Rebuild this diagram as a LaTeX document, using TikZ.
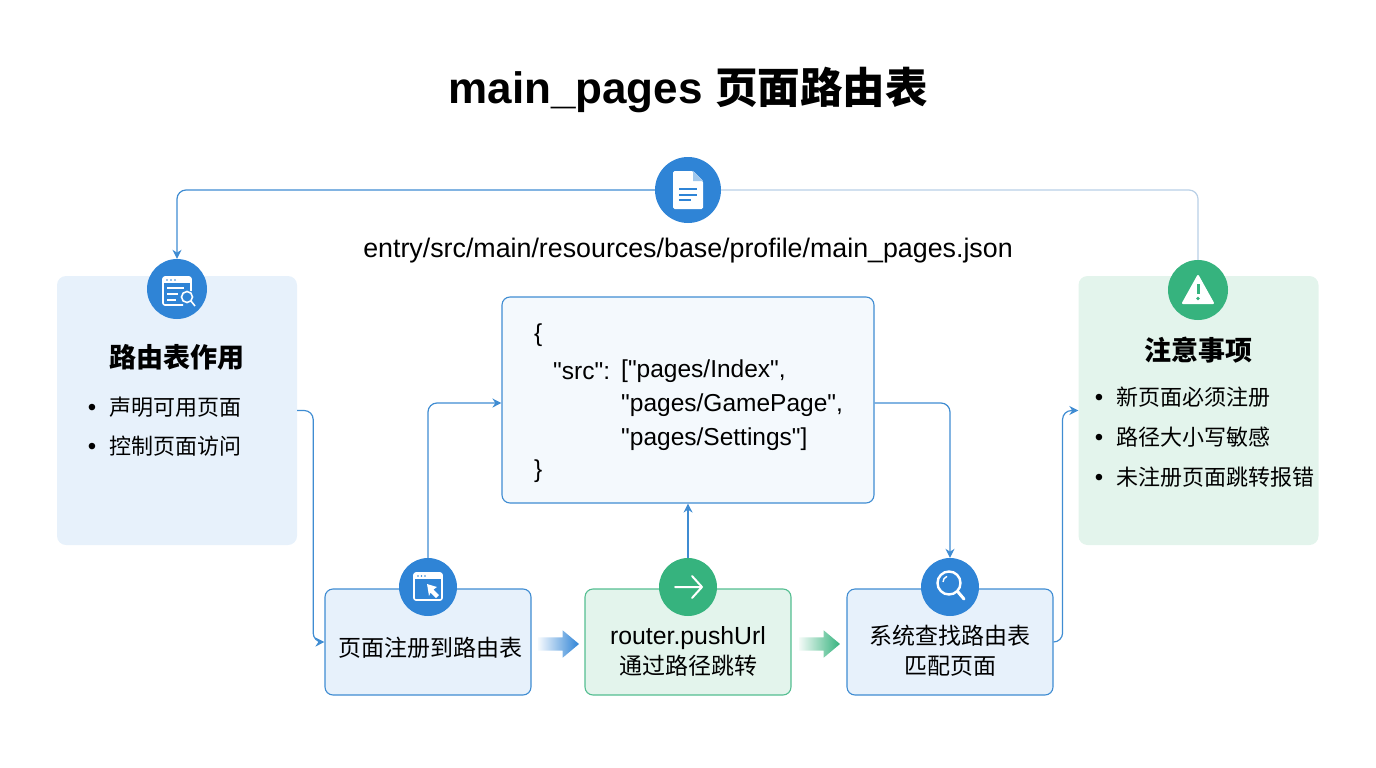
\documentclass[tikz,border=0pt]{standalone}
\usepackage{fontspec}
\setmainfont{Liberation Sans}
\newfontfamily\cjk{Noto Sans CJK SC}
\newfontfamily\codefont{Liberation Sans}
\usepackage{tikz}
\usetikzlibrary{arrows.meta,positioning,shapes.arrows}

\definecolor{flowblue}{HTML}{2F84D6}
\definecolor{flowgreen}{HTML}{36B37E}
\definecolor{lineblue}{HTML}{3F8CD2}
\definecolor{paleline}{HTML}{B9D0E6}
\definecolor{paleblue}{HTML}{E7F1FB}
\definecolor{palegreen}{HTML}{E3F4EC}

\begin{document}
\begin{tikzpicture}[
  x=1pt, y=-1pt,
  >={Stealth[length=9pt,width=9pt]},
  cardbox/.style={rounded corners=9pt, minimum width=#1, minimum height=269pt, inner sep=0pt},
  stepbox/.style={draw, line width=1.1pt, rounded corners=8pt, minimum width=206pt, minimum height=106pt, inner sep=0pt},
  steplabel/.style={inner sep=0pt, align=center, font=\fontsize{23}{30}\selectfont},
  badge/.style={circle, fill=flowblue, minimum size=#1, inner sep=0pt},
  cardtitle/.style={font=\fontsize{27}{30}\selectfont\cjk\bfseries},
  carditem/.style={anchor=west, inner sep=0pt, font=\fontsize{22}{28}\selectfont\cjk},
  carddot/.style={anchor=center, inner sep=0pt, font=\fontsize{24}{28}\selectfont},
  codeline/.style={anchor=west, inner sep=0pt, font=\fontsize{24.5}{28}\selectfont\codefont},
  flowline/.style={draw=lineblue, line width=1.2pt, rounded corners=9pt},
  movearrow/.style={single arrow, minimum height=41pt, minimum width=27pt, single arrow head extend=7pt, single arrow tip angle=80, inner xsep=0pt, inner ysep=6.5pt}
]
\useasboundingbox (0,0) rectangle (1376,768);

\node[font=\fontsize{44}{50}\selectfont\bfseries] (title) at (688,90) {main\_pages {\cjk\fontsize{42.5}{50}\selectfont 页面路由表}};
\node[font=\fontsize{26.8}{30}\selectfont] (path) at (688,251) {entry/src/main/resources/base/profile/main\_pages.json};

% side cards
\node[cardbox=240pt, fill=paleblue] (usecard) at (177,410.5) {};
\node[cardbox=240pt, fill=palegreen] (notecard) at (1198.5,410.5) {};
\node[cardtitle] (usetitle) at (177,357) {路由表作用};
\node[cardtitle] (notetitle) at (1198,350) {注意事项};

\node[carddot] (usedota) at (92,410) {•};
\node[carditem] (usea) at (109,407) {声明可用页面};
\node[carddot] (usedotb) at (92,449) {•};
\node[carditem] (useb) at (109,446) {控制页面访问};

\node[carddot] (notedota) at (1099,400) {•};
\node[carditem] (notea) at (1116,397) {新页面必须注册};
\node[carddot] (notedotb) at (1099,440) {•};
\node[carditem] (noteb) at (1116,437) {路径大小写敏感};
\node[carddot] (notedotc) at (1099,480) {•};
\node[carditem] (notec) at (1116,477) {未注册页面跳转报错};

% code box
\node[draw=lineblue, fill=paleblue!45, line width=1.1pt, rounded corners=8pt, minimum width=372pt, minimum height=206pt] (codebox) at (688,400) {};
\node[codeline] (open) at (534,335) {\{};
\node[codeline] (srckey) at (553,371) {"src":};
\node[codeline] (srca) at (621,371) {["pages/Index",};
\node[codeline] (srcb) at (621,405) {"pages/GamePage",};
\node[codeline] (srcc) at (621,439) {"pages/Settings"]};
\node[codeline] (close) at (534,471) {\}};

% bottom steps
\node[stepbox, draw=lineblue, fill=paleblue] (regbox) at (428,642) {};
\node[stepbox, draw=flowgreen!85, fill=palegreen] (pushbox) at (688,642) {};
\node[stepbox, draw=lineblue, fill=paleblue] (findbox) at (950,642) {};
\node[steplabel] (reglabel) at (430,648) {\cjk 页面注册到路由表};
\node[steplabel] (pushlabel) at (688,651) {{\fontsize{24.8}{30}\selectfont router.pushUrl}\\\cjk 通过路径跳转};
\node[steplabel] (findlabel) at (950,651) {\cjk 系统查找路由表\\\cjk 匹配页面};

\node[movearrow, left color=paleblue!40, right color=flowblue] (movea) at (554.5,644) {};
\node[movearrow, left color=palegreen!40, right color=flowgreen] (moveb) at (815.5,644) {};

% badges
\node[badge=66pt] (docbadge) at (688,190) {};
\node[badge=60pt] (usebadge) at (177,289) {};
\node[badge=60pt, fill=flowgreen] (notebadge) at (1198,290) {};
\node[badge=58pt] (regbadge) at (428,587) {};
\node[badge=58pt, fill=flowgreen] (pushbadge) at (688,587) {};
\node[badge=58pt] (findbadge) at (950,587) {};

% connectors
\draw[flowline, ->] (docbadge.west) -| (usebadge.north);
\draw[flowline, draw=paleline] (docbadge.east) -| (notebadge.north);
\draw[flowline, ->] (usecard.east) -- ++(16,0) |- (regbox.west);
\draw[flowline, ->] (regbadge.north) |- ([yshift=-3pt]codebox.west);
\draw[flowline, ->] (pushbadge.north) -- (codebox.south);
\draw[flowline, ->] ([yshift=-3pt]codebox.east) -| (findbadge.north);
\draw[flowline, ->] (findbox.east) -- ++(9,0) |- (notecard.west);

% document icon
\fill[white, rounded corners=1.5pt] (673,171) -- (693,171) -- (703,181) -- (703,209) -- (673,209) -- cycle;
\fill[flowblue!45] (693,171) -- (703,181) -- (693,181) -- cycle;
\draw[flowblue, line width=1.5pt] (679,189) -- (697,189) (679,195) -- (697,195) (679,200) -- (691,200);

% table icon
\draw[white, line width=1.6pt, rounded corners=2pt] (183,305) -- (163,305) -- (163,277) -- (191,277) -- (191,291);
\fill[white] (163,277) rectangle (191,283);
\fill[flowblue] (167,280) circle (0.9pt) (171,280) circle (0.9pt) (175,280) circle (0.9pt);
\draw[white, line width=1.5pt] (167,288) -- (184,288) (167,294) -- (178,294) (167,300) -- (176,300);
\draw[white, line width=1.6pt] (187,297) circle (5.5pt) (191,301) -- (195,306);

% warning icon
\fill[white, draw=white, line width=2pt, line join=round] (1198,276) -- (1213,303) -- (1183,303) -- cycle;
\draw[flowgreen, line width=3pt] (1198,284) -- (1198,294);
\fill[flowgreen] (1198,298.5) circle (1.9pt);

% window icon
\draw[white, line width=1.6pt, rounded corners=2pt] (414,573) rectangle (442,600);
\fill[white] (414,573) rectangle (442,579);
\fill[flowblue] (418,576) circle (0.8pt) (421.5,576) circle (0.8pt) (425,576) circle (0.8pt);
\fill[white] (427,584) -- (437,587) -- (433.5,589.5) -- (439,595) -- (436,598) -- (430.5,592.5) -- (429,596) -- cycle;

% arrow icon
\draw[white, line width=2pt, line cap=round, line join=round] (675,587) -- (702,587) (692,576) -- (702,587) -- (692,598);

% lens icon
\draw[white, line width=2.4pt] (949,583) circle (11.5pt);
\draw[white, line width=1.4pt] (943,582) arc[start angle=180, end angle=110, radius=6pt];
\draw[white, line width=3pt, line cap=round] (958,592) -- (964,599);
\end{tikzpicture}
\end{document}
